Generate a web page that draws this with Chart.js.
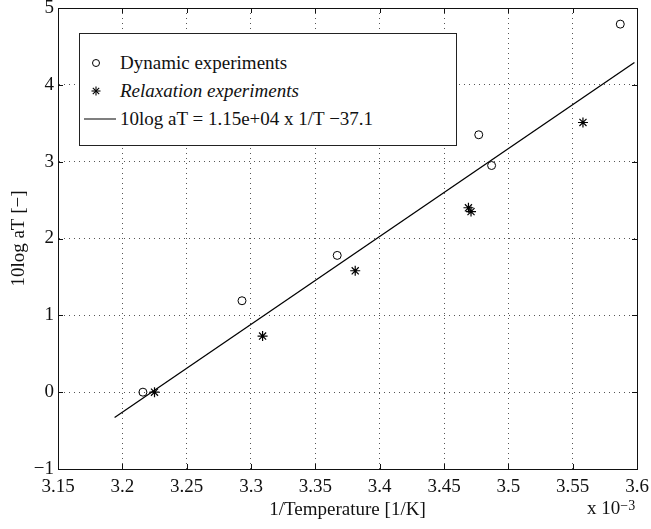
<!DOCTYPE html>
<html>
<head>
<meta charset="utf-8">
<script src="https://cdn.jsdelivr.net/npm/chart.js@4"></script>
<style>
  html, body { margin: 0; padding: 0; background: #fff; }
  #wrap { position: relative; width: 651px; height: 529px; }
  #legend {
    position: absolute; left: 79px; top: 33px; width: 378px; height: 113px;
    border: 1px solid #222; background: #fff; box-sizing: border-box;
    font-family: 'Liberation Serif', 'Times New Roman', serif; font-size: 19px; color: #111;
  }
  .row { position: absolute; left: 0; height: 24px; line-height: 24px; white-space: nowrap; }
  .row svg { position: absolute; left: 2px; top: 0; }
  .row span { position: absolute; left: 40px; }
  #exp {
    position: absolute; left: 587px; top: 497px;
    font-family: 'Liberation Serif', 'Times New Roman', serif; font-size: 19px; color: #111; white-space: nowrap;
  }
  #exp sup { font-size: 14px; position: relative; top: -4px; vertical-align: baseline; }
</style>
</head>
<body>
<div id="wrap">
  <canvas id="chart" width="651" height="529"></canvas>
  <div id="legend">
    <div class="row" style="top:17px">
      <svg width="34" height="24"><circle cx="14" cy="12" r="3.5" fill="none" stroke="#000" stroke-width="1"/></svg>
      <span>Dynamic experiments</span>
    </div>
    <div class="row" style="top:45px">
      <svg width="34" height="24"><g stroke="#000" stroke-width="1.1"><line x1="14" y1="7.5" x2="14" y2="16.5"/><line x1="9.5" y1="12" x2="18.5" y2="12"/><line x1="10.8" y1="8.8" x2="17.2" y2="15.2"/><line x1="10.8" y1="15.2" x2="17.2" y2="8.8"/></g></svg>
      <span style="font-style:italic">Relaxation experiments</span>
    </div>
    <div class="row" style="top:73px">
      <svg width="34" height="24"><line x1="2" y1="12" x2="35" y2="12" stroke="#000" stroke-width="1.2"/></svg>
      <span>10log aT = 1.15e+04 x 1/T &#8722;37.1</span>
    </div>
  </div>
  <div id="exp">x 10<sup>&#8722;3</sup></div>
</div>
<script>
// values (x in units of 1e-3 1/K)
const dynT = [3.216, 3.293, 3.367, 3.477, 3.487, 3.587];
const dynLog = [0.0, 1.19, 1.78, 3.35, 2.95, 4.79];
const relT = [3.225, 3.309, 3.381, 3.469, 3.471, 3.558];
const relLog = [0.0, 0.73, 1.58, 2.40, 2.35, 3.51];
const fitT = [3.194, 3.598];
const fitLog = [-0.33, 4.29];

const xTicks = [3.15, 3.2, 3.25, 3.3, 3.35, 3.4, 3.45, 3.5, 3.55, 3.6];
const yTicks = [-1, 0, 1, 2, 3, 4, 5];

const FONT = "'Liberation Serif', 'Times New Roman', serif";
const toPts = (xs, ys) => xs.map((x, i) => ({ x: x, y: ys[i] }));

// frame on all four sides with small inward ticks, like matlab
const framePlugin = {
  id: 'frame',
  afterDatasetsDraw(chart) {
    const { ctx, chartArea: a, scales } = chart;
    ctx.save();
    ctx.strokeStyle = '#111';
    ctx.lineWidth = 1;
    ctx.strokeRect(a.left + 0.5, a.top + 0.5, a.right - a.left, a.bottom - a.top);
    ctx.beginPath();
    xTicks.forEach(v => {
      const px = Math.round(scales.x.getPixelForValue(v)) + 0.5;
      ctx.moveTo(px, a.bottom); ctx.lineTo(px, a.bottom - 5);
      ctx.moveTo(px, a.top); ctx.lineTo(px, a.top + 5);
    });
    yTicks.forEach(v => {
      const py = Math.round(scales.y.getPixelForValue(v)) + 0.5;
      ctx.moveTo(a.left, py); ctx.lineTo(a.left + 5, py);
      ctx.moveTo(a.right, py); ctx.lineTo(a.right - 5, py);
    });
    ctx.stroke();
    ctx.restore();
  }
};

new Chart(document.getElementById('chart'), {
  type: 'scatter',
  data: {
    datasets: [
      {
        label: 'Dynamic experiments',
        data: toPts(dynT, dynLog),
        pointStyle: 'circle',
        pointRadius: 4,
        borderColor: '#000',
        backgroundColor: 'rgba(0,0,0,0)',
        borderWidth: 1,
      },
      {
        label: 'Relaxation experiments',
        data: toPts(relT, relLog),
        pointStyle: 'star',
        pointRadius: 5,
        borderColor: '#000',
        backgroundColor: '#000',
        borderWidth: 1.2,
      },
      {
        label: '10log aT fit',
        data: toPts(fitT, fitLog),
        showLine: true,
        pointRadius: 0,
        borderColor: '#000',
        borderWidth: 1.3,
      }
    ]
  },
  options: {
    responsive: false,
    animation: false,
    layout: { padding: { top: 8, right: 14, left: 0, bottom: 0 } },
    plugins: {
      legend: { display: false },
      tooltip: { enabled: false }
    },
    scales: {
      x: {
        type: 'linear',
        min: 3.15,
        max: 3.6,
        afterBuildTicks: s => { s.ticks = xTicks.map(v => ({ value: v })); },
        afterFit: s => { s.height = 60; s.paddingLeft = 0; s.paddingRight = 0; },
        grid: { color: '#555', lineWidth: 1, drawTicks: false },
        border: { display: true, color: '#111', dash: [1, 4] },
        ticks: {
          padding: 7,
          color: '#111',
          maxRotation: 0,
          font: { family: FONT, size: 19 },
          callback: v => String(Math.round(v * 100) / 100)
        },
        title: {
          display: true,
          text: '1/Temperature [1/K]',
          color: '#111',
          font: { family: FONT, size: 19 },
          padding: { top: 0, bottom: 8 }
        }
      },
      y: {
        type: 'linear',
        min: -1,
        max: 5,
        afterBuildTicks: s => { s.ticks = yTicks.map(v => ({ value: v })); },
        afterFit: s => { s.width = 58; s.paddingTop = 0; s.paddingBottom = 0; },
        grid: { color: '#555', lineWidth: 1, drawTicks: false },
        border: { display: true, color: '#111', dash: [1, 4] },
        ticks: {
          padding: 4,
          color: '#111',
          font: { family: FONT, size: 19 },
          callback: v => (v < 0 ? '\u2212' + Math.abs(v) : String(v))
        },
        title: {
          display: true,
          text: '10log aT [\u2212]',
          color: '#111',
          font: { family: FONT, size: 19 },
          padding: { top: 8, bottom: 0 }
        }
      }
    }
  },
  plugins: [framePlugin]
});
</script>
</body>
</html>
